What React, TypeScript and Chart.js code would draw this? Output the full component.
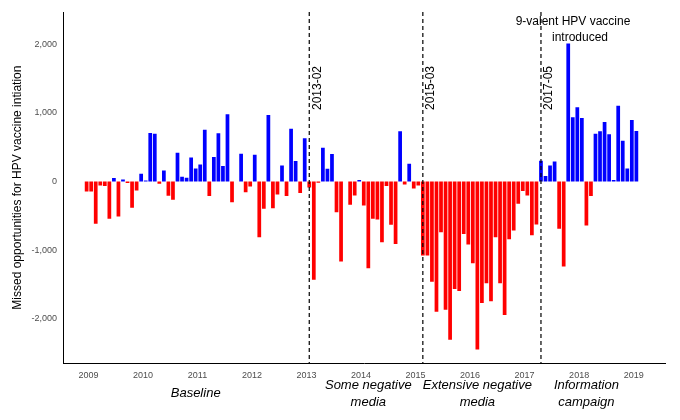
import React, { useEffect, useRef } from "react";
import { Chart, registerables } from "chart.js";
Chart.register(...registerables);

// monthly values from 2009-01 to 2019-02
const values: number[] = [
  -146, -146, -618, -58, -68, -545, 49, -511, 29, -24, -385, -131,
  112, 15, 706, 696, -34, 160, -209, -268, 419, 68, 54, 350,
  190, 248, 755, -214, 355, 701, 224, 979, -302, 0, 404, -156,
  -73, 390, -813, -399, 969, -390, -190, 234, -214, 769, 297, -170,
  628, -90, -1432, -20, 492, 185, 399, -448, -1169, 0, -341, -205,
  20, -351, -1266, -545, -555, -886, -68, -632, -911, 730, -44, 258,
  -102, -58, -1081, -1081, -1461, -1899, -740, -1870, -2308, -1568, -1597, -765,
  -920, -1193, -2450, -1773, -1485, -1748, -813, -1485, -1948, -842, -716, -326,
  -141, -205, -784, -628, 302, 78, 234, 292, -691, -1240, 2011, 935,
  1081, 925, -643, -214, 696, 730, 867, 687, 20, 1105, 594, 190,
  896, 735,
];
const years: number[] = [2009, 2010, 2011, 2012, 2013, 2014, 2015, 2016, 2017, 2018, 2019];
const events: { label: string; month: number }[] = [
  { label: "2013-02", month: 49 },
  { label: "2015-03", month: 74 },
  { label: "2017-05", month: 100 },
];
const periodLabels: { lines: string[]; month: number }[] = [
  { lines: ["Baseline"], month: 24 },
  { lines: ["Some negative", "media"], month: 62 },
  { lines: ["Extensive negative", "media"], month: 86 },
  { lines: ["Information", "campaign"], month: 110 },
];
const TICK_OFFSET = 0.4;

export default function App() {
  const ref = useRef<HTMLCanvasElement>(null);
  useEffect(() => {
    const font = "'Liberation Sans', Arial, sans-serif";
    const overlay = {
      id: "overlay",
      afterDatasetsDraw(chart: any) {
        const { ctx, chartArea, scales } = chart;
        const xs = scales.x;
        ctx.save();
        events.forEach((e) => {
          const px = xs.getPixelForValue(e.month);
          ctx.strokeStyle = "#000";
          ctx.lineWidth = 1.2;
          ctx.setLineDash([4, 3]);
          ctx.beginPath();
          ctx.moveTo(px, chartArea.top);
          ctx.lineTo(px, chartArea.bottom);
          ctx.stroke();
          ctx.setLineDash([]);
          ctx.save();
          ctx.translate(px + 8, 110);
          ctx.rotate(-Math.PI / 2);
          ctx.fillStyle = "#000";
          ctx.font = `12px ${font}`;
          ctx.textAlign = "left";
          ctx.textBaseline = "middle";
          ctx.fillText(e.label, 0, 0);
          ctx.restore();
        });
        ctx.fillStyle = "#000";
        ctx.font = `12px ${font}`;
        ctx.textAlign = "center";
        ctx.textBaseline = "middle";
        ctx.fillText("9-valent HPV vaccine", 573, 22);
        ctx.fillText("introduced", 580, 38);
        ctx.font = `italic 13px ${font}`;
        periodLabels.forEach((p) => {
          const px = xs.getPixelForValue(p.month);
          p.lines.forEach((l, k) => ctx.fillText(l, px, 393 + k * 17 - (p.lines.length === 1 ? 0 : 8)));
        });
        ctx.restore();
      },
    };
    const chart = new Chart(ref.current!, {
      type: "bar",
      data: {
        datasets: [
          {
            data: values.map((v, i) => ({ x: i, y: v })),
            backgroundColor: values.map((v) => (v >= 0 ? "#0000ff" : "#ff0000")),
            barPercentage: 0.82,
            categoryPercentage: 1,
          },
        ],
      },
      options: {
        animation: false,
        responsive: false,
        layout: { padding: { top: 12, right: 15, bottom: 36, left: 6 } },
        plugins: { legend: { display: false }, tooltip: { enabled: false } },
        scales: {
          x: {
            type: "linear",
            offset: false,
            min: -5,
            max: 127.3,
            grid: { display: false, drawTicks: true, tickLength: 4, tickColor: "#333", offset: false },
            border: { color: "#000", width: 1 },
            afterBuildTicks: (axis: any) => {
              axis.ticks = years.map((y) => ({ value: (y - 2009) * 12 + TICK_OFFSET }));
            },
            ticks: {
              color: "#4d4d4d",
              font: { size: 9, family: font },
              maxRotation: 0,
              callback: (v: any) => String(Math.round((Number(v) - TICK_OFFSET) / 12) + 2009),
            },
          },
          y: {
            min: -2650,
            max: 2470,
            grid: { display: false, tickLength: 4, tickColor: "#333" },
            border: { color: "#000", width: 1 },
            afterBuildTicks: (axis: any) => {
              axis.ticks = [-2000, -1000, 0, 1000, 2000].map((v) => ({ value: v }));
            },
            ticks: {
              color: "#4d4d4d",
              font: { size: 9, family: font },
              callback: (v: any) => Number(v).toLocaleString("en-US"),
            },
            title: {
              display: true,
              text: "Missed opportunities for HPV vaccine intiation",
              color: "#000",
              font: { size: 12, family: font },
            },
          },
        },
      },
      plugins: [overlay],
    });
    return () => chart.destroy();
  }, []);
  return (
    <div style={{ position: "absolute", left: 0, top: 0, width: 680, height: 420, background: "#fff" }}>
      <canvas ref={ref} width={680} height={420} style={{ width: 680, height: 420 }} />
    </div>
  );
}
